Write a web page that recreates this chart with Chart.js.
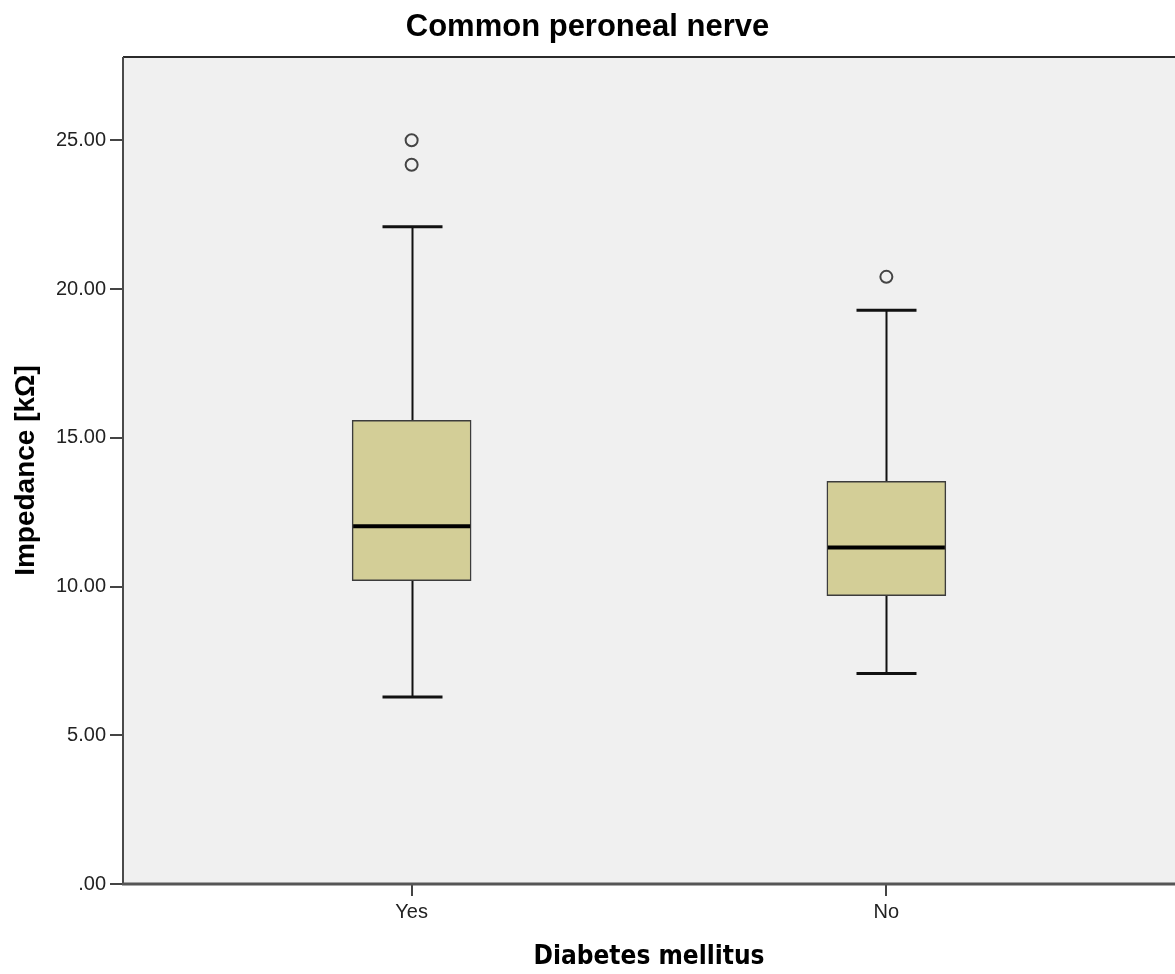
<!DOCTYPE html>
<html>
<head>
<meta charset="utf-8">
<script src="https://cdn.jsdelivr.net/npm/chart.js@4.4.1/dist/chart.umd.min.js"></script>
<style>
  html, body { margin: 0; padding: 0; background: #ffffff; }
  #wrap { width: 1175px; height: 974px; }
</style>
</head>
<body>
<div id="wrap"><canvas id="c" width="1175" height="974"></canvas></div>
<script>
// Group labels and their positions on the x axis
const groups = ['Yes', 'No'];
const groupPos = [1, 2];

// Five-number summaries per group (kΩ)
const whiskerLow  = [6.29, 7.08];
const quartile1   = [10.20, 9.69];
const medians     = [12.03, 11.31];
const quartile3   = [15.59, 13.54];
const whiskerHigh = [22.09, 19.29];

// Outlying observations per group
const outliers = [[25.00, 24.18], [20.41]];

// Y axis ticks
const yTicks = [0, 5, 10, 15, 20, 25];

const BOX_WIDTH = 119;
const CAP_WIDTH = 60;

const boxData = groupPos.map((p, i) => ({ x: p, y: [quartile1[i], quartile3[i]] }));
const outlierData = outliers.flatMap((vals, i) => vals.map(v => ({ x: groupPos[i], y: v })));

const boxPlotDecor = {
  id: 'boxPlotDecor',
  beforeDraw(chart) {
    const { ctx, chartArea: a } = chart;
    ctx.save();
    ctx.fillStyle = '#f0f0f0';
    ctx.fillRect(a.left, a.top, a.right - a.left, a.bottom - a.top);
    ctx.restore();
  },
  beforeDatasetsDraw(chart) {
    const { ctx, scales: { x, y } } = chart;
    ctx.save();
    ctx.strokeStyle = '#111';
    groupPos.forEach((p, i) => {
      const cx = Math.round(x.getPixelForValue(p)) + 0.5;
      // whisker stems
      ctx.lineWidth = 2;
      ctx.beginPath();
      ctx.moveTo(cx, y.getPixelForValue(quartile3[i]));
      ctx.lineTo(cx, y.getPixelForValue(whiskerHigh[i]));
      ctx.moveTo(cx, y.getPixelForValue(quartile1[i]));
      ctx.lineTo(cx, y.getPixelForValue(whiskerLow[i]));
      ctx.stroke();
      // whisker caps
      ctx.lineWidth = 3;
      ctx.beginPath();
      [whiskerHigh[i], whiskerLow[i]].forEach(v => {
        const py = y.getPixelForValue(v);
        ctx.moveTo(cx - CAP_WIDTH / 2, py);
        ctx.lineTo(cx + CAP_WIDTH / 2, py);
      });
      ctx.stroke();
    });
    ctx.restore();
  },
  afterDatasetsDraw(chart) {
    const { ctx, chartArea: a, scales: { x, y } } = chart;
    ctx.save();
    // median lines
    ctx.strokeStyle = '#000';
    ctx.lineWidth = 4;
    groupPos.forEach((p, i) => {
      const cx = x.getPixelForValue(p);
      const py = y.getPixelForValue(medians[i]);
      ctx.beginPath();
      ctx.moveTo(cx - BOX_WIDTH / 2 + 1, py);
      ctx.lineTo(cx + BOX_WIDTH / 2 - 1, py);
      ctx.stroke();
    });
    // frame: top border, left and bottom axis lines
    ctx.strokeStyle = '#2a2a2a';
    ctx.lineWidth = 2;
    ctx.beginPath();
    ctx.moveTo(a.left, a.top);
    ctx.lineTo(a.right, a.top);
    ctx.stroke();
    ctx.strokeStyle = '#4a4a4a';
    ctx.beginPath();
    ctx.moveTo(a.left, a.top);
    ctx.lineTo(a.left, a.bottom);
    ctx.stroke();
    ctx.lineWidth = 3;
    ctx.strokeStyle = '#555';
    ctx.beginPath();
    ctx.moveTo(a.left - 1, a.bottom);
    ctx.lineTo(a.right, a.bottom);
    ctx.stroke();
    ctx.restore();
  }
};

new Chart(document.getElementById('c'), {
  type: 'bar',
  data: {
    datasets: [
      {
        type: 'bar',
        data: boxData,
        barThickness: BOX_WIDTH,
        backgroundColor: '#d3ce97',
        borderColor: '#3c3c3c',
        borderWidth: 1.5,
        borderSkipped: false
      },
      {
        type: 'scatter',
        data: outlierData,
        showLine: false,
        pointRadius: 6,
        pointBorderWidth: 2,
        pointBorderColor: '#444',
        pointBackgroundColor: 'rgba(0,0,0,0)'
      }
    ]
  },
  plugins: [boxPlotDecor],
  options: {
    responsive: false,
    devicePixelRatio: 1,
    animation: false,
    events: [],
    layout: { padding: 0, autoPadding: false },
    plugins: {
      legend: { display: false },
      tooltip: { enabled: false },
      title: {
        display: true,
        text: 'Common peroneal nerve',
        color: '#000',
        font: { family: "'Liberation Sans', Arial, sans-serif", size: 31, weight: 'bold' },
        padding: { top: 9, bottom: 10.8 }
      }
    },
    scales: {
      x: {
        type: 'linear',
        min: 0.392,
        max: 2.608,
        offset: false,
        afterFit: s => { s.height = 90; s.paddingLeft = 0; s.paddingRight = 0; },
        afterBuildTicks: s => { s.ticks = groupPos.map(v => ({ value: v })); },
        border: { display: false },
        grid: { offset: false, drawOnChartArea: false, drawTicks: true, tickLength: 12, color: '#444', lineWidth: 2 },
        ticks: {
          padding: 4,
          color: '#222',
          font: { family: "'Liberation Sans', Arial, sans-serif", size: 20 },
          callback: v => groups[groupPos.indexOf(v)] ?? ''
        },
        title: {
          display: true,
          text: 'Diabetes mellitus',
          color: '#000',
          font: { family: "'DejaVu Sans Condensed', 'DejaVu Sans', sans-serif", size: 26, weight: 'bold' },
          padding: { top: 0, bottom: 1.4 }
        }
      },
      y: {
        min: 0,
        max: 27.8,
        afterFit: s => { s.width = 123; s.paddingTop = 0; s.paddingBottom = 0; },
        afterBuildTicks: s => { s.ticks = yTicks.map(v => ({ value: v })); },
        border: { display: false },
        grid: { drawOnChartArea: false, drawTicks: true, tickLength: 13, color: '#444', lineWidth: 2 },
        ticks: {
          padding: 4,
          color: '#222',
          font: { family: "'Liberation Sans', Arial, sans-serif", size: 20 },
          callback: v => (v === 0 ? '.00' : v.toFixed(2))
        },
        title: {
          display: true,
          text: 'Impedance [kΩ]',
          color: '#000',
          font: { family: "'Liberation Sans', Arial, sans-serif", size: 28, weight: 'bold' },
          padding: { top: 9, bottom: 0 }
        }
      }
    }
  }
});
</script>
</body>
</html>
